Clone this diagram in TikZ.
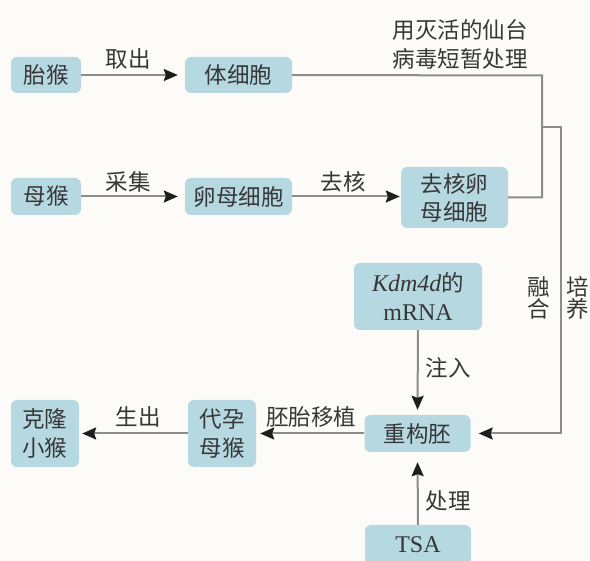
\documentclass[tikz,border=0pt]{standalone}
\usepackage{fontspec}
\setmainfont{Liberation Serif}
\newfontfamily\cjk{Noto Sans CJK SC}
\newfontfamily\lat{Liberation Serif}
\usetikzlibrary{arrows.meta}
\definecolor{boxfill}{RGB}{182,217,225}
\definecolor{bgcol}{RGB}{252,251,247}
\definecolor{linecol}{RGB}{140,140,140}
\definecolor{txtcol}{RGB}{55,55,55}
\definecolor{tipcol}{RGB}{30,30,30}
\tikzset{
  flowbox/.style={fill=boxfill, rounded corners=6pt, inner sep=0pt, align=center,
    font=\cjk\fontsize{22.5}{27}\selectfont, text=txtcol},
  lbl/.style={font=\cjk\fontsize{22.5}{27}\selectfont, text=txtcol, inner sep=0pt, align=center},
  conn/.style={draw=linecol, line width=2pt},
  arr/.style={conn, -{Stealth[length=14pt,width=12pt,inset=2pt,color=tipcol]}},
}
\begin{document}
\begin{tikzpicture}[x=1pt,y=-1pt]
\fill[bgcol] (0,0) rectangle (590,561);
\useasboundingbox (0,0) rectangle (590,561);
\begin{scope}
\clip (0,0) rectangle (590,561);
% nodes
\node[flowbox, minimum width=70pt, minimum height=36pt] (taihou) at (46,75) {胎猴};
\node[flowbox, minimum width=107pt, minimum height=36pt] (ti) at (238.5,75) {体细胞};
\node[flowbox, minimum width=70pt, minimum height=37pt] (muhou) at (46,196.5) {母猴};
\node[flowbox, minimum width=107pt, minimum height=37pt] (luan) at (238.5,196.5) {卵母细胞};
\node[flowbox, minimum width=107pt, minimum height=61pt, font=\cjk\fontsize{22.5}{28}\selectfont] (qhl) at (454.5,197.5) {去核卵\\母细胞};
\node[flowbox, minimum width=128pt, minimum height=67pt, font=\cjk\fontsize{22.5}{29}\selectfont] (mrna) at (418,296.5) {{\lat\itshape\fontsize{24}{29}\selectfont Kdm4d}的\\{\lat\fontsize{24}{29}\selectfont mRNA}};
\node[flowbox, minimum width=106pt, minimum height=37pt] (cgp) at (417.5,433.5) {重构胚};
\node[flowbox, minimum width=68pt, minimum height=67pt, font=\cjk\fontsize{22.5}{29}\selectfont] (dy) at (222,433.5) {代孕\\母猴};
\node[flowbox, minimum width=68pt, minimum height=67pt, font=\cjk\fontsize{22.5}{29}\selectfont] (kl) at (45,433.5) {克隆\\小猴};
\node[flowbox, minimum width=106pt, minimum height=40pt] (tsa) at (418,545) {\lat\fontsize{24}{29}\selectfont TSA};
% labels
\node[lbl] (l1) at (128,59) {取出};
\node[lbl] (l2) at (128,182) {采集};
\node[lbl] (l3) at (343,182) {去核};
\node[lbl, font=\cjk\fontsize{22.5}{29}\selectfont] (l4) at (460,44.5) {用灭活的仙台\\病毒短暂处理};
\node[lbl, font=\cjk\fontsize{22.5}{22}\selectfont] (l5) at (539,298) {融\\合};
\node[lbl, font=\cjk\fontsize{22.5}{22}\selectfont] (l6) at (578,298) {培\\养};
\node[lbl] (l7) at (448,368) {注入};
\node[lbl] (l8) at (448,501) {处理};
\node[lbl] (l9) at (311,417) {胚胎移植};
\node[lbl] (l10) at (138,417) {生出};
% coordinates
\coordinate (c1) at (542,75.5);
\coordinate (c2) at (542,197.5);
\coordinate (c3) at (542,127);
\coordinate (c4) at (561,127);
\coordinate (c5) at (561,433.5);
% connectors
\draw[arr, shorten >=7pt] (taihou.east) -- (ti.west);
\draw[arr, shorten >=7pt] (muhou.east) -- (luan.west);
\draw[arr, shorten >=1pt] (luan.east) -- (luan.east -| qhl.west);
\draw[conn] (ti.east) -- (c1) -- (c2) -- (qhl.east);
\draw[arr, shorten >=8pt] (c3) -- (c4) -- (c5) -- (cgp.east);
\draw[arr, shorten >=5pt] (mrna.south) -- (cgp.north);
\draw[arr, shorten >=10pt] (tsa.north) -- (cgp.south);
\draw[arr, shorten >=4pt] (cgp.west) -- (dy.east);
\draw[arr, shorten >=3pt] (dy.west) -- (kl.east);
\end{scope}
\end{tikzpicture}
\end{document}
